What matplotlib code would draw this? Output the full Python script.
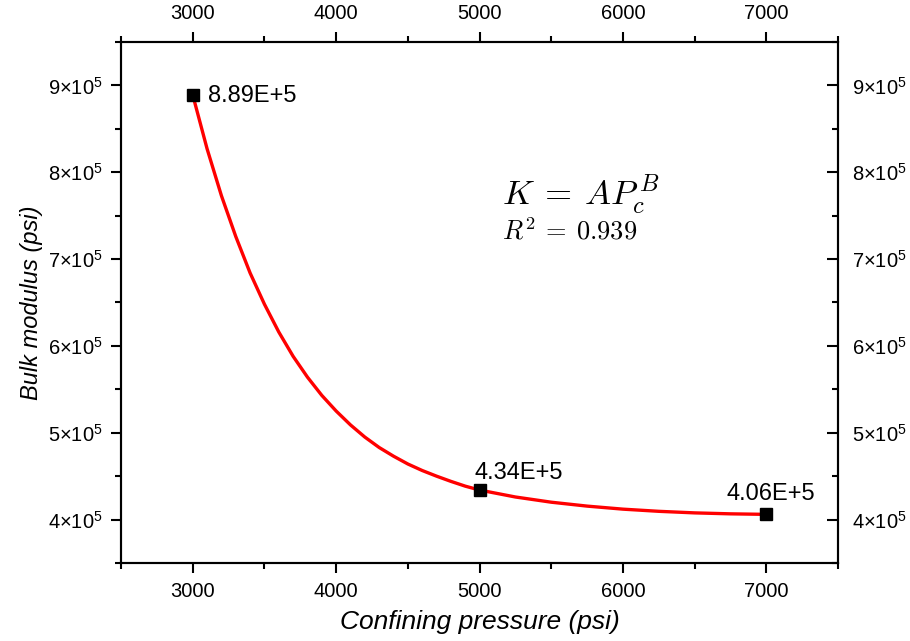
import matplotlib
matplotlib.use("Agg")
import matplotlib.pyplot as plt
from matplotlib.ticker import MultipleLocator, FuncFormatter

plt.rcParams["font.family"] = ["Liberation Sans", "DejaVu Sans"]
plt.rcParams["mathtext.fontset"] = "custom"
plt.rcParams["mathtext.rm"] = "Liberation Sans"
plt.rcParams["mathtext.it"] = "Liberation Sans:italic"

# measured points
pressure = [3000, 5000, 7000]
bulk = [8.89e5, 4.34e5, 4.06e5]
labels = ["8.89E+5", "4.34E+5", "4.06E+5"]

# fitted curve
fit_x = [3000, 3100, 3200, 3300, 3400, 3500, 3600, 3700, 3800, 3900, 4000,
         4100, 4200, 4300, 4400, 4500, 4600, 4700, 4800, 4900, 5000,
         5250, 5500, 5750, 6000, 6250, 6500, 6750, 7000]
fit_y = [8.89e5, 8.27e5, 7.73e5, 7.26e5, 6.84e5, 6.48e5, 6.16e5, 5.88e5,
         5.64e5, 5.43e5, 5.25e5, 5.09e5, 4.95e5, 4.83e5, 4.73e5, 4.64e5,
         4.565e5, 4.50e5, 4.44e5, 4.385e5, 4.34e5, 4.26e5, 4.20e5, 4.155e5,
         4.12e5, 4.095e5, 4.077e5, 4.066e5, 4.06e5]

fig = plt.figure(figsize=(9.1, 6.41), dpi=100)
ax = fig.add_axes([0.133, 0.1217, 0.788, 0.8128])

ax.plot(fit_x, fit_y, color="#ff0000", linewidth=2.4, zorder=2,
        solid_capstyle="round", solid_joinstyle="round")
ax.plot(pressure, bulk, linestyle="none", marker="s", markersize=8,
        color="black", zorder=3)

ax.annotate(labels[0], (pressure[0], bulk[0]), xytext=(11, -5),
            textcoords="offset points", ha="left", va="baseline", fontsize=17)
ax.annotate(labels[1], (pressure[1], bulk[1]), xytext=(-3.6, 7.6),
            textcoords="offset points", ha="left", va="baseline", fontsize=17)
ax.annotate(labels[2], (pressure[2], bulk[2]), xytext=(3, 10.6),
            textcoords="offset points", ha="center", va="baseline", fontsize=17)

ax.text(0.531, 0.687, r"$K \:=\: AP_c^{\,B}$", transform=ax.transAxes,
        fontsize=25, math_fontfamily="cm", ha="left", va="baseline")
ax.text(0.531, 0.620, r"$R^2 \:=\: 0.939$", transform=ax.transAxes,
        fontsize=19, math_fontfamily="cm", ha="left", va="baseline")

ax.set_xlim(2500, 7500)
ax.set_ylim(3.5e5, 9.5e5)


def sci(v, pos):
    return r"$%d{\times}10^{5}$" % round(v / 1e5)


ax2 = ax.twinx()
ax2.set_ylim(ax.get_ylim())
for a in (ax, ax2):
    a.xaxis.set_major_locator(MultipleLocator(1000))
    a.xaxis.set_minor_locator(MultipleLocator(500))
    a.yaxis.set_major_locator(MultipleLocator(1e5))
    a.yaxis.set_minor_locator(MultipleLocator(0.5e5))
    a.yaxis.set_major_formatter(FuncFormatter(sci))
    for sp in a.spines.values():
        sp.set_linewidth(1.5)

ax.tick_params(which="both", direction="out", width=1.5,
               top=True, right=False, labeltop=True)
ax.tick_params(which="major", length=7, pad=7, labelsize=14.5)
ax.tick_params(axis="y", which="major", pad=6)
ax.tick_params(which="minor", length=4)
ax2.tick_params(which="both", direction="in", width=1.5)
ax2.tick_params(which="major", length=8, pad=10, labelsize=14.5)
ax2.tick_params(which="minor", length=4)

ax.set_xlabel("Confining pressure (psi)", fontsize=19, style="italic", labelpad=6)
ax.set_ylabel("Bulk modulus (psi)", fontsize=17, style="italic", labelpad=4)

fig.savefig("out.png", dpi=100)
